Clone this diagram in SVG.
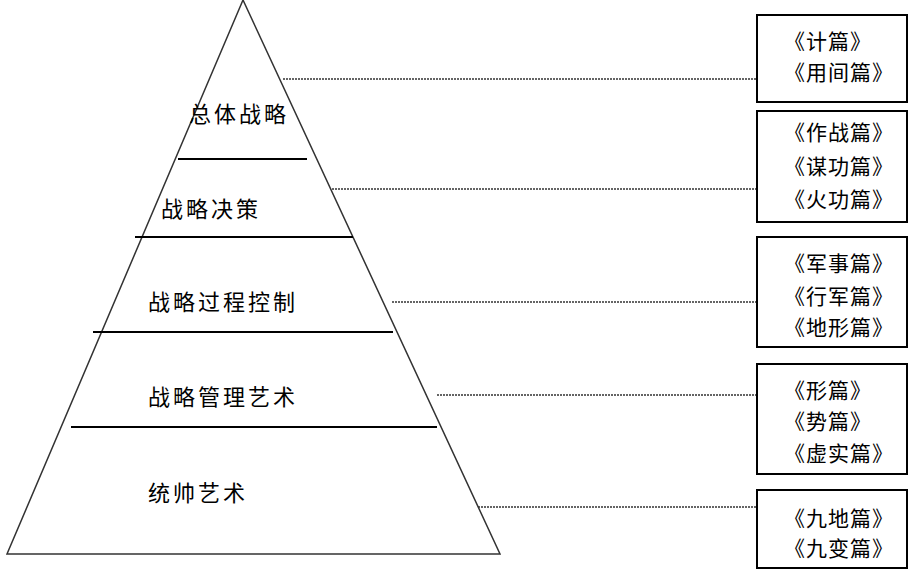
<svg xmlns="http://www.w3.org/2000/svg" width="913" height="579" viewBox="0 0 913 579">
<style>
.edge{stroke:#333;stroke-width:1.5;fill:none}
.hl{stroke:#000;stroke-width:2}
.dot{stroke:#333;stroke-width:1.3;stroke-dasharray:2 1;fill:none}
.box{fill:#fff;stroke:#000;stroke-width:2}
.pt{font-family:"Noto Sans CJK SC","Liberation Sans",sans-serif;font-size:22px;letter-spacing:3px;fill:#000;dominant-baseline:central}
.bt{font-family:"Noto Sans CJK SC","Liberation Sans",sans-serif;font-size:21px;letter-spacing:1px;fill:#000;dominant-baseline:central}
</style>
<rect width="913" height="579" fill="#fff"/>
<g id="pyramid">
<polygon class="edge" points="243,0 7,554 500,554"/>
<line class="hl" x1="178" y1="159" x2="307" y2="159"/>
<line class="hl" x1="135" y1="237" x2="353" y2="237"/>
<line class="hl" x1="93" y1="332" x2="393" y2="332"/>
<line class="hl" x1="71" y1="427" x2="437" y2="427"/>
</g>
<g id="level1"><text class="pt" x="189" y="112">总体战略</text></g>
<g id="level2"><text class="pt" x="161" y="207">战略决策</text></g>
<g id="level3"><text class="pt" x="148" y="300">战略过程控制</text></g>
<g id="level4"><text class="pt" x="148" y="395">战略管理艺术</text></g>
<g id="level5"><text class="pt" x="148" y="491">统帅艺术</text></g>
<g id="connectors">
<line class="dot" x1="283" y1="79" x2="757" y2="79"/>
<line class="dot" x1="332" y1="189" x2="757" y2="189"/>
<line class="dot" x1="392" y1="302" x2="757" y2="302"/>
<line class="dot" x1="437" y1="395" x2="757" y2="395"/>
<line class="dot" x1="478" y1="507" x2="757" y2="507"/>
</g>
<g id="box1">
<rect class="box" x="757" y="15" width="150" height="87"/>
<text class="bt" x="784" y="40">《计篇》</text>
<text class="bt" x="784" y="71">《用间篇》</text>
</g>
<g id="box2">
<rect class="box" x="757" y="111" width="150" height="111"/>
<text class="bt" x="784" y="131">《作战篇》</text>
<text class="bt" x="784" y="165">《谋功篇》</text>
<text class="bt" x="784" y="198">《火功篇》</text>
</g>
<g id="box3">
<rect class="box" x="757" y="237" width="150" height="110"/>
<text class="bt" x="784" y="262">《军事篇》</text>
<text class="bt" x="784" y="295">《行军篇》</text>
<text class="bt" x="784" y="326">《地形篇》</text>
</g>
<g id="box4">
<rect class="box" x="757" y="364" width="150" height="110"/>
<text class="bt" x="784" y="389">《形篇》</text>
<text class="bt" x="784" y="420">《势篇》</text>
<text class="bt" x="784" y="452">《虚实篇》</text>
</g>
<g id="box5">
<rect class="box" x="757" y="490" width="150" height="78"/>
<text class="bt" x="784" y="517">《九地篇》</text>
<text class="bt" x="784" y="547">《九变篇》</text>
</g>
</svg>
